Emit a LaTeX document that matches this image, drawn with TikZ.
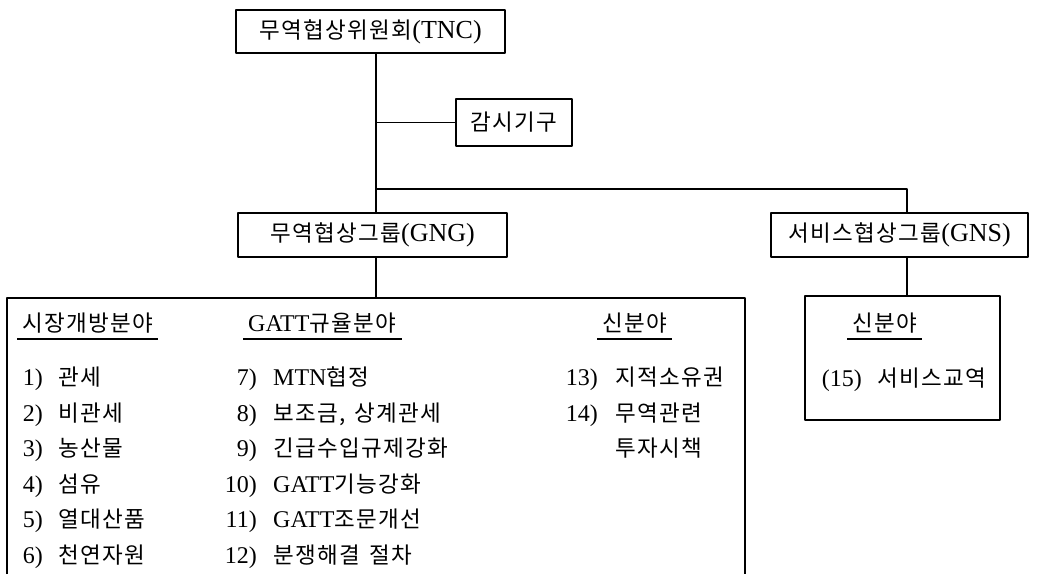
\documentclass[tikz,border=0pt]{standalone}
\usepackage{fontspec}
\setmainfont{Liberation Serif}
\newfontfamily\kr[LetterSpace=6]{Noto Sans CJK KR}
\newcommand{\hg}[1]{{\kr\fontsize{22.5}{26}\selectfont #1}}
\tikzset{
  orgbox/.style={draw,line width=1.1pt,inner sep=0pt,font=\fontsize{26}{30}\selectfont},
  link/.style={line width=1.1pt},
  heading/.style={inner xsep=5pt,inner ysep=0pt,anchor=base west,font=\fontsize{24}{27}\selectfont},
  num/.style={inner sep=0pt,anchor=base east,font=\fontsize{24}{27}\selectfont},
  item/.style={inner sep=0pt,anchor=base west,font=\fontsize{24}{27}\selectfont},
}
\begin{document}
\begin{tikzpicture}[x=1pt,y=-1pt,line join=round]
    \useasboundingbox (0,0) rectangle (1038,574);

    % organisation boxes
    \node[orgbox,minimum width=269pt,minimum height=43pt] (tnc) at (370.5,31.5) {\hg{무역협상위원회}(TNC)};
    \node[orgbox,minimum width=116pt,minimum height=47pt] (mon) at (514,122.5) {\hg{감시기구}};
    \node[orgbox,minimum width=269pt,minimum height=44pt] (gng) at (372.5,235) {\hg{무역협상그룹}(GNG)};
    \node[orgbox,minimum width=257pt,minimum height=44pt] (gns) at (899.5,235) {\hg{서비스협상그룹}(GNS)};
    \node[orgbox,minimum width=195pt,minimum height=124pt] (svcbox) at (902.5,358) {};

    \coordinate (split) at (376,189);
    \coordinate (gnsline) at (907,189);
    \coordinate (rulesnw) at (7,298);
    \coordinate (rulesne) at (745,298);

    % connectors
    \draw[link] (tnc.south -| split) -- (split);
    \draw[link] (mon.west) -- (mon.west -| split);
    \draw[link] (split) -- (gng.north -| split);
    \draw[link] (split) -- (gnsline) -- (gns.north -| gnsline);
    \draw[link] (gng.south -| split) -- (split |- rulesnw);
    \draw[link] (gns.south -| gnsline) -- (svcbox.north -| gnsline);
    \draw[link] (rulesnw |- 0,574) -- (rulesnw) -- (rulesne) -- (rulesne |- 0,574);

    \begin{scope}[shift={(0,0)}]
      \node[heading] (h1) at (17,331) {\hg{시장개방분야}};
      \draw[link] ([yshift=-8pt]h1.base west) -- ([yshift=-8pt]h1.base east);
      \node[num] (c1n1) at (43,385) {1)};   \node[item] (c1t1) at (58,385) {\hg{관세}};
      \node[num] (c1n2) at (43,421) {2)};   \node[item] (c1t2) at (58,421) {\hg{비관세}};
      \node[num] (c1n3) at (43,456) {3)};   \node[item] (c1t3) at (58,456) {\hg{농산물}};
      \node[num] (c1n4) at (43,492) {4)};   \node[item] (c1t4) at (58,492) {\hg{섬유}};
      \node[num] (c1n5) at (43,527) {5)};   \node[item] (c1t5) at (58,527) {\hg{열대산품}};
      \node[num] (c1n6) at (43,563) {6)};   \node[item] (c1t6) at (58,563) {\hg{천연자원}};
    \end{scope}

    \begin{scope}[shift={(0,0)}]
      \node[heading] (h2) at (243,331) {GATT\hg{규율분야}};
      \draw[link] ([yshift=-8pt]h2.base west) -- ([yshift=-8pt]h2.base east);
      \node[num] (c2n1) at (257,385) {7)};  \node[item] (c2t1) at (273,385) {MTN\hg{협정}};
      \node[num] (c2n2) at (257,421) {8)};  \node[item] (c2t2) at (273,421) {\hg{보조금,\hspace{9pt}상계관세}};
      \node[num] (c2n3) at (257,456) {9)};  \node[item] (c2t3) at (273,456) {\hg{긴급수입규제강화}};
      \node[num] (c2n4) at (257,492) {10)}; \node[item] (c2t4) at (273,492) {GATT\hg{기능강화}};
      \node[num] (c2n5) at (257,527) {11)}; \node[item] (c2t5) at (273,527) {GATT\hg{조문개선}};
      \node[num] (c2n6) at (257,563) {12)}; \node[item] (c2t6) at (273,563) {\hg{분쟁해결\hspace{9pt}절차}};
    \end{scope}

    \begin{scope}[shift={(0,0)}]
      \node[heading] (h3) at (597,331) {\hg{신분야}};
      \draw[link] ([yshift=-8pt]h3.base west) -- ([yshift=-8pt]h3.base east);
      \node[num] (c3n1) at (598,385) {13)}; \node[item] (c3t1) at (615,385) {\hg{지적소유권}};
      \node[num] (c3n2) at (598,421) {14)}; \node[item] (c3t2) at (615,421) {\hg{무역관련}};
      \node[item] (c3t3) at (615,456) {\hg{투자시책}};
    \end{scope}

    \begin{scope}[shift={(0,0)}]
      \node[heading] (h4) at (847,331) {\hg{신분야}};
      \draw[link] ([yshift=-8pt]h4.base west) -- ([yshift=-8pt]h4.base east);
      \node[num] (c4n1) at (862,386) {(15)}; \node[item] (c4t1) at (877,386) {\hg{서비스교역}};
    \end{scope}
  \end{tikzpicture}
\end{document}
